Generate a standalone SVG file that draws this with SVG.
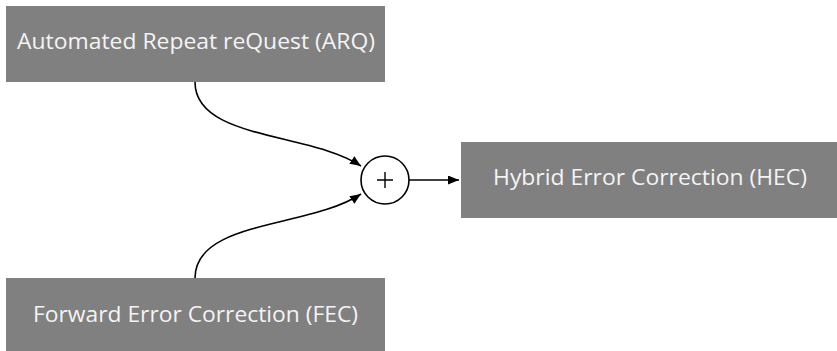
<svg xmlns="http://www.w3.org/2000/svg" width="837" height="351" viewBox="0 0 837 351">
  <style>
    .box { fill: #808080; }
    .label { fill: #f4f4f4; font-family: "Open Sans", "DejaVu Sans", sans-serif; font-size: 22px; text-anchor: middle; }
    .edge { fill: none; stroke: #000; stroke-width: 1.6; }
    .sum { fill: #fff; stroke: #000; stroke-width: 1.6; }
  </style>
  <defs>
    <marker id="arrow" viewBox="0 0 11 9" refX="11" refY="4.5" markerWidth="11" markerHeight="9" markerUnits="userSpaceOnUse" orient="auto">
      <path d="M0,0 L11,4.5 L0,9 Z" fill="#000"/>
    </marker>
  </defs>

  <g id="connectors">
    <path class="edge" d="M195,82 C195,140 310,132 361,166" marker-end="url(#arrow)"/>
    <path class="edge" d="M195,278 C195,220 310,228 361,194" marker-end="url(#arrow)"/>
    <path class="edge" d="M409,180 L459,180" marker-end="url(#arrow)"/>
  </g>

  <g id="arq">
    <rect class="box" x="6" y="6" width="379" height="76"/>
    <text class="label" x="196" y="49" textLength="358" lengthAdjust="spacingAndGlyphs">Automated Repeat reQuest (ARQ)</text>
  </g>

  <g id="fec">
    <rect class="box" x="6" y="278" width="379" height="76"/>
    <text class="label" x="195.5" y="322" textLength="325" lengthAdjust="spacingAndGlyphs">Forward Error Correction (FEC)</text>
  </g>

  <g id="hec">
    <rect class="box" x="461" y="142" width="376" height="76"/>
    <text class="label" x="650" y="185" textLength="314" lengthAdjust="spacingAndGlyphs">Hybrid Error Correction (HEC)</text>
  </g>

  <g id="sum">
    <circle class="sum" cx="385" cy="180" r="24"/>
    <path d="M377,180 H393 M385,172 V188" stroke="#000" stroke-width="1.4" fill="none"/>
  </g>
</svg>
